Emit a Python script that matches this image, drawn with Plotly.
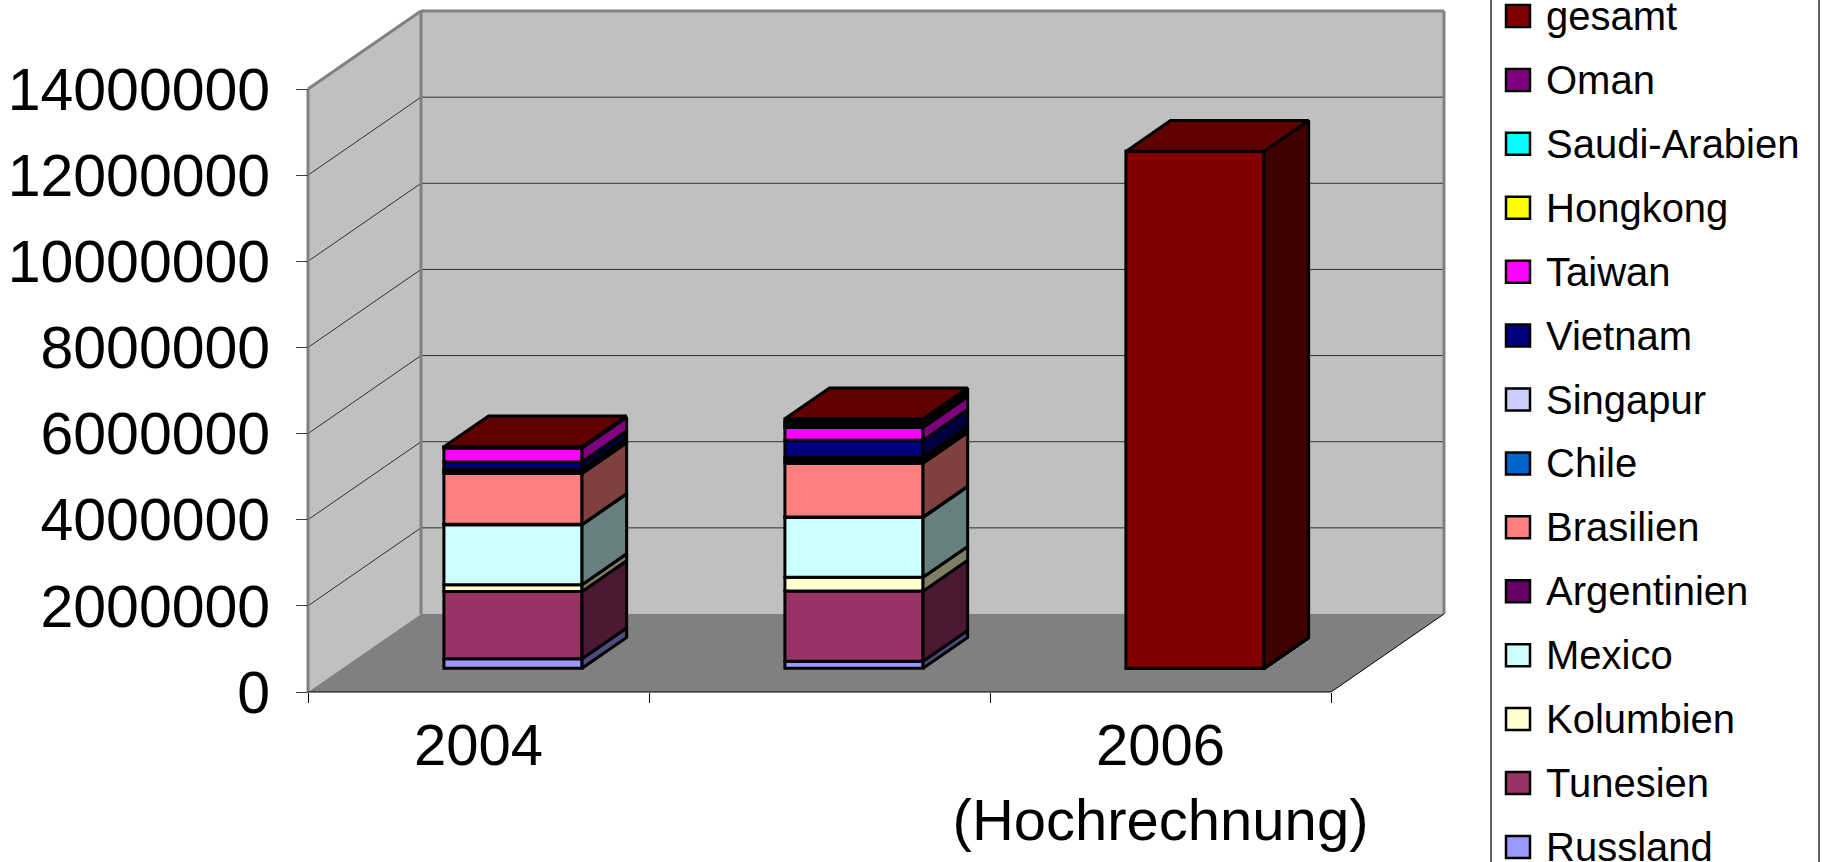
import plotly.graph_objects as go

# ---------------- data ----------------
categories = ["2004", "2005", "2006 (Hochrechnung)"]
x_tick_labels = ["2004", "", "2006<br>(Hochrechnung)"]

# stack order: bottom -> top
series_names = ["Russland", "Tunesien", "Kolumbien", "Mexico", "Argentinien",
                "Brasilien", "Chile", "Singapur", "Vietnam", "Taiwan",
                "Hongkong", "Saudi-Arabien", "Oman", "gesamt"]

russland = [220000, 160000, 0]
tunesien = [1560000, 1630000, 0]
kolumbien = [160000, 320000, 0]
mexico = [1390000, 1390000, 0]
argentinien = [10000, 10000, 0]
brasilien = [1180000, 1250000, 0]
chile = [50000, 70000, 0]
singapur = [50000, 70000, 0]
vietnam = [170000, 390000, 0]
taiwan = [320000, 300000, 0]
hongkong = [10000, 60000, 0]
saudi_arabien = [10000, 70000, 0]
oman = [10000, 70000, 0]
gesamt = [0, 0, 12000000]

series_values = [russland, tunesien, kolumbien, mexico, argentinien, brasilien,
                 chile, singapur, vietnam, taiwan, hongkong, saudi_arabien,
                 oman, gesamt]

series_colors = ["#9999FF", "#993366", "#FFFFCC", "#CCFFFF", "#660066",
                 "#FF8080", "#0066CC", "#CCCCFF", "#000080", "#FF00FF",
                 "#FFFF00", "#00FFFF", "#800080", "#800000"]

y_tick_values = [0, 2000000, 4000000, 6000000, 8000000, 10000000, 12000000, 14000000]
y_tick_labels = ["0", "2000000", "4000000", "6000000", "8000000",
                 "10000000", "12000000", "14000000"]

# ---------------- geometry / style ----------------
W, H = 1822, 862
AX_X_PX, AX_Y_PX = 308, 692        # front-left corner of the floor
PX_PER_CAT = 341.0
PX_PER_VAL = 43.07 / 1e6
DX = 113 / PX_PER_CAT              # full depth offset (category units, to the right)
DY = 78 / PX_PER_VAL               # full depth offset (value units, upward)
F0, F1 = 0.305, 0.70               # bar front/back depth fractions
BW = 0.405                         # bar width (category units)
WALL_TOP = 14000000
FONT = "Liberation Sans, Arial, sans-serif"
EDGE = 3

X0 = -AX_X_PX / PX_PER_CAT
X1 = (W - AX_X_PX) / PX_PER_CAT
Y0 = -(H - AX_Y_PX) / PX_PER_VAL
Y1 = AX_Y_PX / PX_PER_VAL
ncat = len(categories)


def shade(hex_color, f):
    h = hex_color.lstrip("#")
    r, g, b = (int(h[i:i + 2], 16) for i in (0, 2, 4))
    return "#%02X%02X%02X" % (int(r * f), int(g * f), int(b * f))


def path(pts):
    return "M " + " L ".join(f"{x},{y}" for x, y in pts) + " Z"


fig = go.Figure()
shapes = []

# back wall
shapes.append(dict(type="path", xref="x", yref="y", layer="below",
                   path=path([(DX, DY), (ncat + DX, DY), (ncat + DX, WALL_TOP + DY), (DX, WALL_TOP + DY)]),
                   fillcolor="#C0C0C0", line=dict(width=0)))
# left wall
shapes.append(dict(type="path", xref="x", yref="y", layer="below",
                   path=path([(0, 0), (DX, DY), (DX, WALL_TOP + DY), (0, WALL_TOP)]),
                   fillcolor="#C0C0C0", line=dict(width=0)))
# gridlines
for v in y_tick_values[1:-1]:
    shapes.append(dict(type="line", xref="x", yref="y", layer="below",
                       x0=DX, y0=v + DY, x1=ncat + DX, y1=v + DY,
                       line=dict(color="#303030", width=1)))
    shapes.append(dict(type="line", xref="x", yref="y", layer="below",
                       x0=0, y0=v, x1=DX, y1=v + DY,
                       line=dict(color="#303030", width=1)))
# floor
shapes.append(dict(type="path", xref="x", yref="y", layer="below",
                   path=path([(0, 0), (ncat, 0), (ncat + DX, DY), (DX, DY)]),
                   fillcolor="#808080", line=dict(width=0)))
# wall edges (grey)
for (xa, ya, xb, yb) in [(0, 0, 0, WALL_TOP), (0, WALL_TOP, DX, WALL_TOP + DY),
                         (DX, WALL_TOP + DY, ncat + DX, WALL_TOP + DY),
                         (ncat + DX, WALL_TOP + DY, ncat + DX, DY),
                         (DX, DY, DX, WALL_TOP + DY)]:
    shapes.append(dict(type="line", xref="x", yref="y", layer="below",
                       x0=xa, y0=ya, x1=xb, y1=yb,
                       line=dict(color="#808080", width=3)))
# floor edges (black)
shapes.append(dict(type="line", xref="x", yref="y", layer="below",
                   x0=0, y0=0, x1=ncat, y1=0, line=dict(color="#000000", width=1)))
shapes.append(dict(type="line", xref="x", yref="y", layer="below",
                   x0=ncat, y0=0, x1=ncat + DX, y1=DY, line=dict(color="#000000", width=1)))

# ---------------- bars ----------------
cum = [0.0] * ncat
x_front = [c + 0.5 + F0 * DX for c in range(ncat)]
dd = (F1 - F0) * DX
for name, vals, col in zip(series_names, series_values, series_colors):
    bases = [cum[c] + F0 * DY for c in range(ncat)]
    fig.add_trace(go.Bar(x=x_front, y=vals, base=bases, width=BW, name=name,
                         marker=dict(color=col, line=dict(color="black", width=EDGE)),
                         showlegend=False, hoverinfo="skip"))
    sx, sy = [], []
    for c in range(ncat):
        xr = x_front[c] + BW / 2
        b = cum[c]
        t = cum[c] + vals[c]
        sx += [xr, xr + dd, xr + dd, xr, xr, None]
        sy += [b + F0 * DY, b + F1 * DY, t + F1 * DY, t + F0 * DY, b + F0 * DY, None]
    fig.add_trace(go.Scatter(x=sx, y=sy, mode="lines", fill="toself",
                             fillcolor=shade(col, 0.5),
                             line=dict(color="black", width=EDGE),
                             showlegend=False, hoverinfo="skip"))
    cum = [cum[c] + vals[c] for c in range(ncat)]

tx, ty = [], []
for c in range(ncat):
    xl = x_front[c] - BW / 2
    xr = x_front[c] + BW / 2
    T = cum[c]
    tx += [xl, xr, xr + dd, xl + dd, xl, None]
    ty += [T + F0 * DY, T + F0 * DY, T + F1 * DY, T + F1 * DY, T + F0 * DY, None]
fig.add_trace(go.Scatter(x=tx, y=ty, mode="lines", fill="toself",
                         fillcolor=shade(series_colors[-1], 0.75),
                         line=dict(color="black", width=EDGE),
                         showlegend=False, hoverinfo="skip"))

# ---------------- legend (drawn) ----------------
annotations = []
LEG_X0, LEG_X1 = 1491, 1819
LEG_TOP, LEG_STEP = 16, 63.92
shapes.append(dict(type="rect", xref="paper", yref="paper",
                   x0=LEG_X0 / W, x1=LEG_X1 / W, y0=-0.05, y1=1.05,
                   line=dict(color="#303030", width=1.5), fillcolor="rgba(0,0,0,0)"))
for i, (name, col) in enumerate(zip(series_names[::-1], series_colors[::-1])):
    cy = LEG_TOP + LEG_STEP * i
    shapes.append(dict(type="rect", xref="paper", yref="paper",
                       x0=1506 / W, x1=1530 / W,
                       y0=1 - (cy + 11) / H, y1=1 - (cy - 11) / H,
                       fillcolor=col, line=dict(color="black", width=2.5)))
    annotations.append(dict(text=name, xref="paper", yref="paper",
                            x=1544 / W, y=1 - cy / H, xanchor="left", yanchor="middle",
                            showarrow=False, font=dict(family=FONT, size=40, color="black")))

fig.update_layout(
    width=W, height=H,
    margin=dict(l=0, r=0, t=0, b=0),
    paper_bgcolor="white", plot_bgcolor="white",
    barmode="overlay", showlegend=False, hovermode=False,
    shapes=shapes, annotations=annotations,
    font=dict(family=FONT, color="black"),
    xaxis=dict(range=[X0, X1], anchor="free", position=(H - AX_Y_PX) / H,
               showgrid=False, zeroline=False, showline=False,
               tickmode="array", tickvals=[c + 0.5 for c in range(ncat)],
               ticktext=x_tick_labels, ticks="", ticklabelstandoff=14,
               tickfont=dict(family=FONT, size=58, color="black"),
               minor=dict(tickmode="array", tickvals=list(range(ncat + 1)),
                          ticks="outside", ticklen=10, tickwidth=1, tickcolor="black",
                          showgrid=False),
               fixedrange=True),
    yaxis=dict(range=[Y0, Y1], anchor="free", position=AX_X_PX / W,
               showgrid=False, zeroline=False, showline=False,
               tickmode="array", tickvals=y_tick_values, ticktext=y_tick_labels,
               ticks="outside", ticklen=12, tickwidth=1, tickcolor="#404040",
               ticklabelstandoff=14,
               tickfont=dict(family=FONT, size=59, color="black"),
               fixedrange=True),
)

fig.write_html("out.html",
               config={"displayModeBar": False, "staticPlot": True},
               post_script="document.body.style.margin='0px';document.body.style.overflow='hidden';")
